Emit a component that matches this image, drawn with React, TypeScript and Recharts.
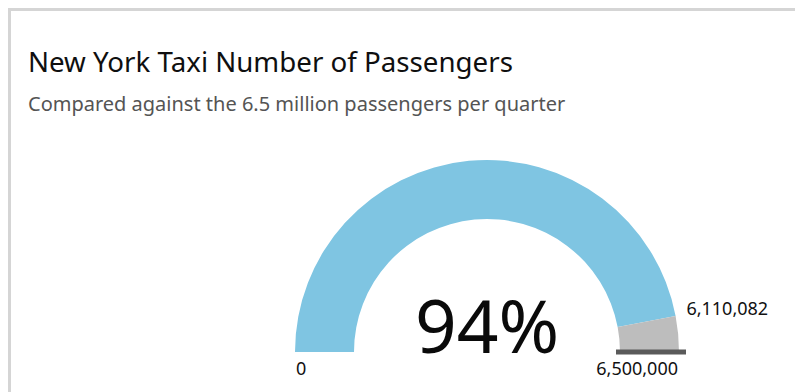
import React from 'react';
import { PieChart, Pie, Cell } from 'recharts';

const title = 'New York Taxi Number of Passengers';
const subtitle = 'Compared against the 6.5 million passengers per quarter';
const segmentNames = ['Passengers', 'Remaining'];
const actualValue = 6110082;
const targetValue = 6500000;
const segmentValues = [actualValue, targetValue - actualValue];
const segmentColors = ['#7fc5e2', '#bdbdbd'];
const minLabel = '0';

const data = segmentNames.map((name, i) => ({ name, value: segmentValues[i] }));
const fmt = (v: number) => v.toLocaleString('en-US');
const FONT = '"Noto Sans", "Open Sans", sans-serif';
const RAD = Math.PI / 180;

const renderLabel = (props: any) => {
  const { cx, cy, innerRadius, outerRadius, endAngle, index } = props;
  if (index === 0) {
    const r = outerRadius + 12;
    const px = cx + r * Math.cos(endAngle * RAD);
    const py = cy - r * Math.sin(endAngle * RAD);
    const pct = Math.round((actualValue / targetValue) * 100);
    return (
      <g>
        <text x={cx - outerRadius + 1} y={cy + 23} textAnchor="start" fontSize={18} fill="#111111" fontFamily={FONT}>
          {minLabel}
        </text>
        <text x={px - 1} y={py + 1} textAnchor="start" fontSize={18} fill="#111111" fontFamily={FONT}>
          {fmt(actualValue)}
        </text>
        <text x={cx} y={cy + 1} textAnchor="middle" fontSize={73} fill="#0a0a0a" fontFamily={FONT}>
          {pct}%
        </text>
      </g>
    );
  }
  return (
    <g>
      <rect
        x={cx + innerRadius - 4}
        y={cy - 2.5}
        width={outerRadius - innerRadius + 11}
        height={5}
        fill="#5a5a5a"
      />
      <text x={cx + outerRadius - 1} y={cy + 23} textAnchor="end" fontSize={18} fill="#111111" fontFamily={FONT}>
        {fmt(targetValue)}
      </text>
    </g>
  );
};

export default function App() {
  return (
    <div
      style={{
        position: 'absolute',
        left: 8,
        top: 8,
        width: 787,
        height: 384,
        overflow: 'hidden',
        fontFamily: FONT,
        background: '#ffffff',
      }}
    >
      <style>{'html,body{margin:0;padding:0;overflow:hidden;}'}</style>
      <div
        style={{
          position: 'absolute',
          left: 0,
          top: 0,
          width: 800,
          height: 400,
          borderTop: '3px solid #d5d5d5',
          borderLeft: '3px solid #d5d5d5',
          boxSizing: 'border-box',
        }}
      />
      <svg width={787} height={120} style={{ position: 'absolute', left: 0, top: 0 }}>
        <text x={20} y={64} fontSize={27.7} fill="#0f0f0f" fontFamily={FONT}>
          {title}
        </text>
        <text x={20} y={103} fontSize={20} fill="#545454" fontFamily={FONT}>
          {subtitle}
        </text>
      </svg>
      <div style={{ position: 'absolute', left: 0, top: 0 }}>
        <PieChart width={787} height={384} margin={{ top: 0, right: 0, bottom: 0, left: 0 }}>
          <Pie
            data={data}
            dataKey="value"
            nameKey="name"
            cx={479}
            cy={344}
            startAngle={180}
            endAngle={0}
            innerRadius={133}
            outerRadius={192}
            stroke="none"
            label={renderLabel}
            labelLine={false}
            isAnimationActive={false}
          >
            {data.map((d, i) => (
              <Cell key={d.name} fill={segmentColors[i]} />
            ))}
          </Pie>
        </PieChart>
      </div>
    </div>
  );
}
